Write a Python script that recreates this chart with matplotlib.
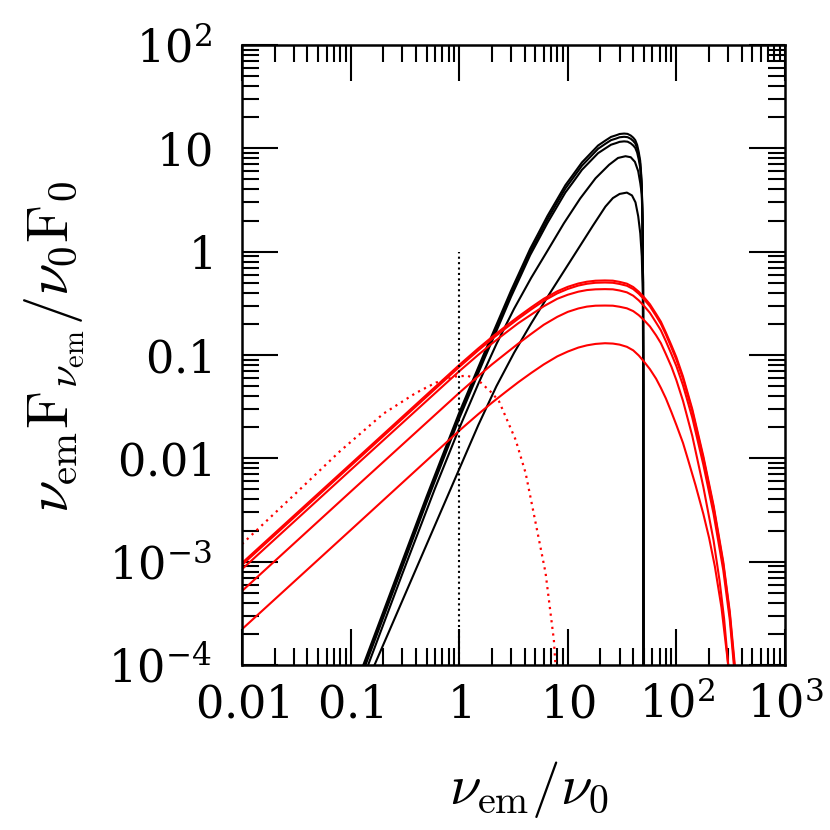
import matplotlib
matplotlib.use("Agg")
import matplotlib.pyplot as plt
from matplotlib.ticker import FixedLocator, LogLocator, NullFormatter

plt.rcParams['mathtext.fontset'] = 'cm'
plt.rcParams['font.family'] = ['DejaVu Serif']

# ---- black curves ----
bk_x123 = [0.131, 0.2, 0.32, 0.5, 0.7, 1.0, 1.3, 1.7, 2.3, 3.0, 3.7, 4.5, 5.4, 6.5, 7.7, 9.5, 11, 13.5, 15.6, 19,
           22.2, 25, 28, 30, 33, 35.5, 38, 40, 41.8, 43.5, 45, 46.4, 47.3, 48.0, 48.8, 49.3, 49.6, 49.8]
bk_y1 = [1e-4, 3.27e-4, 1.22e-3, 4.25e-3, 0.01055, 0.0276, 0.0532, 0.104, 0.218, 0.419, 0.678, 1.064, 1.53, 2.22,
         3.01, 4.40, 5.43, 7.31, 8.57, 10.65, 11.9, 12.9, 13.4, 13.76, 13.9, 13.8, 13.3, 12.7, 12.0, 10.8, 9.2, 7.6,
         5.8, 4.3, 2.0, 0.5, 0.05, 1e-4]
bk_y2 = [9.3e-5, 3.04e-4, 1.135e-3, 3.95e-3, 9.8e-3, 0.0257, 0.0495, 0.0967, 0.203, 0.39, 0.63, 0.99, 1.42, 2.06,
         2.80, 4.09, 5.05, 6.8, 7.97, 9.9, 11.07, 12.0, 12.46, 12.8, 12.93, 12.83, 12.37, 11.8, 11.16, 10.05, 8.56,
         7.07, 5.5, 4.2, 2.0, 0.5, 0.05, 1e-4]
bk_y3 = [8.8e-5, 2.88e-4, 1.07e-3, 3.74e-3, 9.3e-3, 0.0243, 0.0468, 0.0915, 0.19, 0.366, 0.59, 0.925, 1.32, 1.9,
         2.57, 3.74, 4.6, 6.2, 7.25, 8.98, 10.0, 10.84, 11.26, 11.56, 11.68, 11.6, 11.17, 10.67, 10.1, 9.1, 7.8,
         6.5, 5.1, 4.0, 1.9, 0.5, 0.05, 1e-4]
bk_x4 = [0.145, 0.3, 0.6, 1.0, 1.5, 2.2, 3.2, 4.6, 6.5, 9.2, 13, 18, 24, 29, 34, 38, 41.5, 44.5, 46.5, 48, 48.8,
         49.3, 49.6, 49.8]
bk_y4 = [1e-4, 7.66e-4, 5.15e-3, 0.0195, 0.0527, 0.1275, 0.28, 0.558, 1.02, 1.88, 3.27, 5.13, 6.93, 8.07, 8.39,
         8.2, 7.4, 6.0, 4.6, 3.6, 1.8, 0.5, 0.05, 1e-4]
bk_x5 = [0.166, 0.25, 0.4, 0.7, 1.0, 1.5, 2.2, 3.2, 4.6, 6.5, 9.2, 12.6, 17, 22.2, 26, 30, 35, 39, 42, 44.5, 46.5,
         48, 49, 49.5, 49.8]
bk_y5 = [1e-4, 2.7e-4, 8.47e-4, 3.3e-3, 7.85e-3, 0.021, 0.0498, 0.105, 0.202, 0.364, 0.646, 1.085, 1.78, 2.73,
         3.30, 3.62, 3.73, 3.5, 3.0, 2.2, 1.5, 0.9, 0.4, 0.05, 1e-4]

# ---- red solid curves ----
rd_x = [0.01, 0.1, 1, 1.5, 2, 2.7, 3.5, 4.6, 6, 8, 10, 12.5, 15, 18, 22, 26, 30, 35, 40, 45, 50, 57, 65, 72, 80,
        90, 100, 115, 140, 177, 220, 270, 310]
rd_y1 = [9.7e-4, 8.8e-3, 0.080, 0.116, 0.149, 0.191, 0.235, 0.289, 0.35, 0.4135, 0.457, 0.492, 0.512, 0.5235,
         0.5265, 0.524, 0.51, 0.49, 0.455, 0.41, 0.365, 0.31, 0.25, 0.21, 0.165, 0.124, 0.095, 0.062, 0.030, 0.0105,
         0.0035, 1.0e-3, 3.3e-4]
rd_y2 = [9.3e-4, 8.45e-3, 0.0765, 0.111, 0.1425, 0.1825, 0.2245, 0.276, 0.334, 0.395, 0.436, 0.47, 0.489, 0.5,
         0.503, 0.5, 0.487, 0.468, 0.435, 0.392, 0.349, 0.296, 0.239, 0.2, 0.158, 0.118, 0.09, 0.059, 0.0286,
         0.0100, 0.00333, 9.5e-4, 3.1e-4]
rd_y3 = [8.45e-4, 7.7e-3, 0.0696, 0.1005, 0.129, 0.165, 0.203, 0.246, 0.296, 0.35, 0.383, 0.41, 0.425, 0.432,
         0.434, 0.432, 0.421, 0.404, 0.375, 0.338, 0.301, 0.256, 0.206, 0.173, 0.136, 0.102, 0.078, 0.051, 0.0248,
         0.0087, 0.0029, 8.3e-4, 2.75e-4]
rd_xend = [345, 342, 338]
rd_x4 = [0.01, 0.1, 1, 1.5, 2, 2.7, 3.5, 4.6, 6, 8, 10, 12.5, 15, 18, 22, 26, 30, 35, 40, 45, 50, 57, 65, 72, 80,
         90, 100, 115, 140, 177, 220, 250, 275, 300]
rd_y4 = [5.2e-4, 4.75e-3, 0.043, 0.0625, 0.081, 0.104, 0.129, 0.16, 0.196, 0.234, 0.2615, 0.282, 0.294, 0.3,
         0.301, 0.3, 0.293, 0.283, 0.266, 0.243, 0.219, 0.189, 0.155, 0.13, 0.102, 0.077, 0.057, 0.036, 0.0165,
         5.3e-3, 1.6e-3, 6.5e-4, 2.8e-4, 1e-4]
rd_x5 = [0.01, 0.1, 1, 1.5, 2, 2.7, 3.5, 4.6, 6, 8, 10, 12.5, 15, 18, 22, 26, 30, 35, 40, 45, 50, 57, 65, 72, 80,
         90, 100, 115, 128, 150, 177, 200, 226, 260, 300]
rd_y5 = [2.22e-4, 2.02e-3, 0.0185, 0.0268, 0.0345, 0.0442, 0.0545, 0.067, 0.081, 0.097, 0.108, 0.118, 0.124,
         0.128, 0.13, 0.129, 0.126, 0.12, 0.111, 0.099, 0.087, 0.073, 0.059, 0.048, 0.038, 0.028, 0.021, 0.0141,
         0.0097, 5.5e-3, 2.9e-3, 1.7e-3, 9e-4, 3.6e-4, 1e-4]

# ---- red dotted curve ----
rdot_x = [0.01, 0.03, 0.079, 0.2, 0.4, 0.61, 0.93, 1.2, 1.525, 2.0, 2.33, 3.31, 4.09, 5.06, 6.24, 7.44, 7.7]
rdot_y = [1.48e-3, 4.4e-3, 0.0116, 0.027, 0.043, 0.054, 0.062, 0.063, 0.056, 0.043, 0.0355, 0.0151, 0.0072,
          2.36e-3, 7.8e-4, 1.75e-4, 1e-4]

# ---- vertical dotted marker ----
vline_x = [1, 1]
vline_y = [1e-4, 1]

xticks = [0.01, 0.1, 1, 10, 100, 1000]
xticklabels = [r'$0.01$', r'$0.1$', r'$1$', r'$10$', r'$10^{2}$', r'$10^{3}$']
yticks = [1e-4, 1e-3, 0.01, 0.1, 1, 10, 100]
yticklabels = [r'$10^{-4}$', r'$10^{-3}$', r'$0.01$', r'$0.1$', r'$1$', r'$10$', r'$10^{2}$']

fig = plt.figure(figsize=(8.3, 8.3), dpi=100)
ax = fig.add_axes([242/830, 165/830, 543/830, 620/830])
ax.set_xscale('log')
ax.set_yscale('log')

lw = 1.5
for ys in [bk_y1, bk_y2, bk_y3]:
    ax.plot(bk_x123, ys, color='black', lw=lw, solid_joinstyle='round')
ax.plot(bk_x4, bk_y4, color='black', lw=lw, solid_joinstyle='round')
ax.plot(bk_x5, bk_y5, color='black', lw=lw, solid_joinstyle='round')
for ys, xe in zip([rd_y1, rd_y2, rd_y3], rd_xend):
    ax.plot(rd_x + [xe], ys + [1e-4], color='#ff0000', lw=lw, solid_joinstyle='round')
ax.plot(rd_x4, rd_y4, color='#ff0000', lw=lw, solid_joinstyle='round')
ax.plot(rd_x5, rd_y5, color='#ff0000', lw=lw, solid_joinstyle='round')
ax.plot(rdot_x, rdot_y, color='#ff0000', lw=1.6, linestyle=(0, (1, 2)))
ax.plot(vline_x, vline_y, color='black', lw=1.5, linestyle=(0, (1, 1.6)))

ax.set_xlim(0.01, 1000)
ax.set_ylim(1e-4, 100)

ax.xaxis.set_major_locator(FixedLocator(xticks))
ax.yaxis.set_major_locator(FixedLocator(yticks))
ax.xaxis.set_minor_locator(LogLocator(base=10, subs=range(2, 10), numticks=50))
ax.yaxis.set_minor_locator(LogLocator(base=10, subs=range(2, 10), numticks=50))
ax.xaxis.set_minor_formatter(NullFormatter())
ax.yaxis.set_minor_formatter(NullFormatter())
ax.set_xticklabels(xticklabels, fontsize=32, va='baseline', math_fontfamily='dejavuserif')
ax.set_yticklabels(yticklabels, fontsize=32, math_fontfamily='dejavuserif')

ax.tick_params(which='both', direction='in', top=True, right=True, width=1.5, color='black')
ax.tick_params(which='major', length=26)
ax.tick_params(which='minor', length=12.5)
ax.tick_params(axis='x', which='major', pad=38)
ax.tick_params(axis='y', which='major', pad=22)
for s in ax.spines.values():
    s.set_linewidth(1.8)

ax.set_xlabel(r'$\nu_{\rm em}/\nu_0$', fontsize=41, va='center')
ax.xaxis.set_label_coords(0.528, -0.2016)
ax.set_ylabel(r'$\nu_{\rm em}{\rm F}_{\nu_{\rm em}}/\nu_0{\rm F}_0$', fontsize=42, va='center')
ax.yaxis.set_label_coords(-0.345, 0.513)

fig.savefig('out.png', dpi=100)
